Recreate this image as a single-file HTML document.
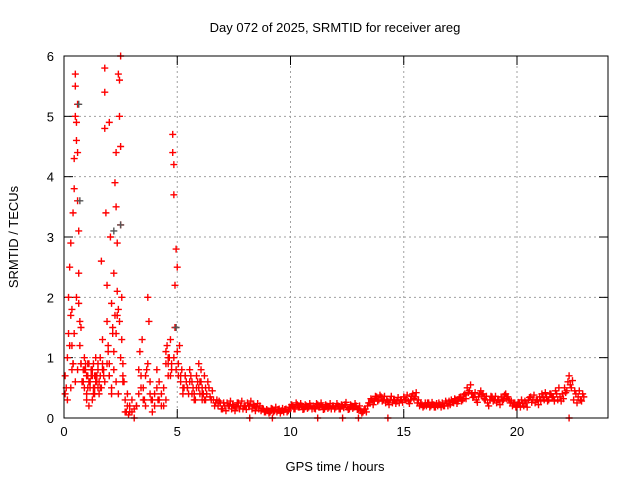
<!DOCTYPE html>
<html><head><meta charset="utf-8"><style>
body{margin:0;background:#fff}
svg{display:block;font-family:"Liberation Sans",sans-serif;font-size:13px}
</style></head><body>
<svg id="chart" width="640" height="480">
<rect width="640" height="480" fill="#fff"/>
<text x="335" y="32" text-anchor="middle">Day 072 of 2025, SRMTID for receiver areg</text>
<text x="335" y="471" text-anchor="middle">GPS time / hours</text>
<text transform="translate(18,237) rotate(-90)" text-anchor="middle">SRMTID / TECUs</text>
<g id="grid"></g><g id="ticks"></g><g id="marks"></g>
<rect x="64" y="56" width="544" height="362" fill="none" stroke="#000"/>
</svg>
<script>
const xTicks=[0,5,10,15,20];
const yTicks=[0,1,2,3,4,5,6];
const earlyTimes=[0.05,0.05,0.1,0.15,0.2,0.2,0.25,0.3,0.3,0.35,0.4,0.4,0.45,0.45,0.5,0.5,0.5,0.55,0.55,0.6,0.6,0.6,0.65,0.65,0.7,0.7,0.75,0.8,0.85,0.9,0.9,1.0,1.0,1.05,1.1,1.15,1.2,1.25,1.3,1.35,1.4,1.45,1.5,1.55,1.6,1.65,1.7,1.75,1.8,1.8,1.8,1.85,1.9,1.9,1.95,2.0,2.0,2.05,2.1,2.1,2.15,2.2,2.25,2.3,2.3,2.35,2.35,2.4,2.45,2.45,2.5,2.5,2.5,2.55,2.55,2.6,2.65,2.7,2.75,2.8,2.85,2.9,3.0,3.1,3.2,3.3,3.35,3.4,3.45,3.5,3.55,3.6,3.65,3.7,3.75,3.8,3.85,3.9,4.0,4.1,4.15,4.2,4.3,4.4,4.5,4.55,4.6,4.65,4.7,4.75,4.8,4.8,4.85,4.85,4.9,4.9,4.95,5.0,5.0,5.05,5.1,5.15,5.2,5.3,5.4,5.5,5.6,5.7,5.8,5.9,5.95,
0.85,0.95,1.05,1.1,1.2,1.3,1.4,1.5,1.6,1.7,1.0,1.15,1.25,1.35,0.75,0.8,2.2,2.3,2.4,2.6,2.0,1.95,0.3,0.35,0.15,4.5,4.6,5.25,5.35,5.45,5.55,5.65,5.75,5.85,6.05,6.1,6.2,
0.25,0.35,0.45,0.55,0.65,0.75,0.9,1.0,1.1,1.2,1.3,1.4,1.5,1.6,1.7,1.8,1.9,2.0,2.1,2.2,2.3,2.4,2.5,2.6,0.95,1.05,1.15,1.25,1.35,1.45,1.55,1.65,1.75,0.4,0.5,0.6,2.15,2.25,2.35,2.45,3.3,3.4,3.5,3.6,3.7,3.8,3.9,4.0,4.1,4.2,4.3,4.4,4.5,4.6,4.7,4.75,4.85,4.95,5.05,5.15,5.25,5.35,5.45,5.55,5.65,5.75,5.85,5.95,6.0,6.1,6.15,6.25,2.7,2.8,2.9,3.0,3.1,3.2];
const earlyValues=[0.4,0.7,0.5,1.0,1.4,2.0,2.5,2.9,1.7,1.2,0.9,3.4,3.8,4.3,5.0,5.7,5.5,4.9,4.6,5.2,4.4,3.6,3.1,2.4,1.6,1.2,0.9,0.6,0.8,1.0,0.5,0.7,0.4,0.9,0.2,0.6,0.8,0.3,0.5,0.7,1.0,0.6,0.9,0.4,0.7,2.6,1.3,0.8,5.8,5.4,4.8,3.4,2.2,1.6,1.1,0.7,4.9,3.0,1.9,0.5,1.4,2.4,3.9,4.4,3.5,2.9,1.7,5.7,5.6,5.0,6.0,4.5,3.2,2.0,1.3,0.9,0.6,0.3,0.1,0.4,0.05,0.2,0.1,0.0,0.2,0.4,1.1,0.7,1.3,0.5,0.3,0.2,0.8,2.0,1.6,0.6,0.3,0.1,0.4,0.8,0.3,0.6,0.2,0.5,0.9,1.2,0.7,1.0,1.3,0.8,4.7,4.4,4.2,3.7,1.5,2.2,2.8,2.5,1.1,0.9,1.2,0.7,0.8,0.5,0.6,0.4,0.7,0.5,0.3,0.6,0.9,
0.6,0.8,0.5,0.9,0.7,0.4,0.6,0.8,0.5,0.9,0.3,0.5,0.7,0.4,0.9,0.6,0.8,0.6,0.4,0.7,0.9,1.2,0.5,0.8,0.3,1.1,0.9,0.4,0.7,0.5,0.6,0.4,0.3,0.5,0.6,0.4,0.3,
1.2,1.8,1.4,2.0,1.9,1.5,0.8,0.7,0.6,0.8,0.9,0.7,0.5,1.0,0.8,0.6,0.9,0.7,0.4,1.1,1.4,1.8,1.0,0.6,0.9,0.7,0.6,0.8,0.5,0.7,0.6,0.5,0.7,0.9,0.6,0.8,1.5,1.7,2.1,1.6,0.8,0.5,0.3,0.7,0.9,0.4,0.3,0.2,0.5,0.3,0.4,0.2,0.3,1.0,0.7,0.9,1.0,0.8,0.7,0.6,0.5,0.7,0.5,0.8,0.6,0.4,0.7,0.5,0.4,0.3,0.4,0.3,0.1,0.2,0.1,0.3,0.15,0.2];
const lateStart=6.0, lateStep=0.1;
const lateValues=[0.6,0.5,0.7,0.4,0.5,0.3,0.3,0.25,0.2,0.25,
0.15,0.2,0.25,0.2,0.15,0.2,0.18,0.25,0.2,0.15,
0.2,0.25,0.2,0.15,0.2,0.18,0.15,0.12,0.15,0.1,
0.12,0.1,0.15,0.12,0.1,0.15,0.12,0.1,0.15,0.12,
0.18,0.2,0.15,0.22,0.18,0.2,0.15,0.2,0.18,0.2,
0.2,0.15,0.22,0.18,0.2,0.15,0.2,0.18,0.15,0.2,
0.18,0.2,0.15,0.2,0.22,0.18,0.15,0.2,0.18,0.2,
0.15,0.12,0.1,0.15,0.2,0.25,0.3,0.28,0.35,0.3,
0.35,0.3,0.25,0.28,0.3,0.25,0.3,0.28,0.25,0.3,
0.35,0.3,0.28,0.3,0.4,0.35,0.25,0.2,0.22,0.2,
0.2,0.25,0.2,0.22,0.18,0.2,0.22,0.25,0.2,0.25,
0.28,0.3,0.25,0.3,0.28,0.35,0.3,0.4,0.5,0.45,
0.4,0.35,0.3,0.35,0.45,0.4,0.3,0.25,0.3,0.35,
0.3,0.25,0.3,0.35,0.3,0.4,0.35,0.25,0.2,0.25,
0.2,0.25,0.3,0.2,0.25,0.3,0.35,0.3,0.25,0.3,
0.35,0.4,0.3,0.35,0.3,0.4,0.35,0.45,0.3,0.35,
0.4,0.5,0.45,0.7,0.5,0.3,0.4,0.35,0.3,0.4];
const lateStart2=6.05;
const lateValues2=[0.8,0.4,0.5,0.6,0.35,0.45,0.2,0.3,0.28,0.15,
0.25,0.12,0.2,0.28,0.22,0.12,0.25,0.15,0.28,0.2,
0.14,0.2,0.28,0.22,0.12,0.24,0.2,0.16,0.1,0.14,
0.08,0.16,0.1,0.18,0.14,0.08,0.16,0.14,0.1,0.18,
0.22,0.15,0.25,0.18,0.24,0.14,0.22,0.16,0.24,0.15,
0.16,0.24,0.18,0.25,0.14,0.22,0.16,0.24,0.2,0.15,
0.24,0.15,0.22,0.17,0.26,0.14,0.22,0.16,0.24,0.14,
0.2,0.08,0.14,0.1,0.25,0.32,0.22,0.36,0.28,0.38,
0.28,0.36,0.3,0.22,0.36,0.3,0.24,0.34,0.3,0.26,
0.3,0.38,0.24,0.36,0.32,0.42,0.3,0.24,0.18,0.25,
0.25,0.18,0.26,0.18,0.24,0.25,0.18,0.2,0.28,0.2,
0.22,0.26,0.32,0.24,0.34,0.28,0.38,0.32,0.42,0.55,
0.34,0.42,0.26,0.4,0.38,0.32,0.36,0.2,0.36,0.28,
0.36,0.3,0.22,0.28,0.38,0.32,0.3,0.28,0.25,0.18,
0.26,0.18,0.24,0.28,0.18,0.34,0.26,0.38,0.3,0.22,
0.28,0.34,0.42,0.28,0.4,0.34,0.28,0.4,0.5,0.28,
0.32,0.42,0.6,0.55,0.62,0.45,0.25,0.45,0.28,0.35];
const zeroTimes=[8.2,9.2,11.2,12.3,13.0,14.3,22.3];
const grayTimes=[0.65,0.7,2.5,4.95,2.2];
const grayValues=[5.2,3.6,3.2,1.5,3.1];

const NS="http://www.w3.org/2000/svg";
const X=t=>64+t*(453/20), Y=v=>418-v*(362/6);
function mk(tag,attrs,parent){const e=document.createElementNS(NS,tag);for(const k in attrs)e.setAttribute(k,attrs[k]);parent.appendChild(e);return e;}
const grid=document.getElementById('grid'),ticks=document.getElementById('ticks'),marks=document.getElementById('marks');
xTicks.forEach(t=>{const x=X(t);
 if(t>0){const g=mk('line',{x1:x,x2:x,y1:56,y2:418,stroke:'#a0a0a0','stroke-dasharray':'2,3'},grid);
 
 }
 mk('line',{x1:x,x2:x,y1:418,y2:409,stroke:'#000'},ticks);
 mk('line',{x1:x,x2:x,y1:56,y2:65,stroke:'#000'},ticks);
 const l=mk('text',{x:x,y:436,'text-anchor':'middle'},ticks);l.textContent=t;
 
 });
yTicks.forEach(v=>{const y=Y(v);
 if(v>0&&v<6){const g=mk('line',{x1:64,x2:608,y1:y,y2:y,stroke:'#a0a0a0','stroke-dasharray':'2,3'},grid);
 
 }
 mk('line',{x1:64,x2:73,y1:y,y2:y,stroke:'#000'},ticks);
 mk('line',{x1:599,x2:608,y1:y,y2:y,stroke:'#000'},ticks);
 const l=mk('text',{x:54,y:y+5,'text-anchor':'end'},ticks);l.textContent=v;
 
 });
function plus(t,v,col){const x=X(t),y=Y(v);
 const p=mk('path',{d:`M${x-3.5},${y}h7M${x},${y-3.5}v7`,stroke:col,'stroke-width':1.4,fill:'none'},marks);
 
 }
earlyTimes.forEach((t,i)=>plus(t,earlyValues[i],'#f00'));
lateValues.forEach((v,i)=>plus(lateStart+i*lateStep,v,'#f00'));
lateValues2.forEach((v,i)=>plus(lateStart2+i*lateStep,v,'#f00'));
zeroTimes.forEach(t=>plus(t,0,'#f00'));
grayTimes.forEach((t,i)=>plus(t,grayValues[i],'#555'));
</script>
</body></html>
